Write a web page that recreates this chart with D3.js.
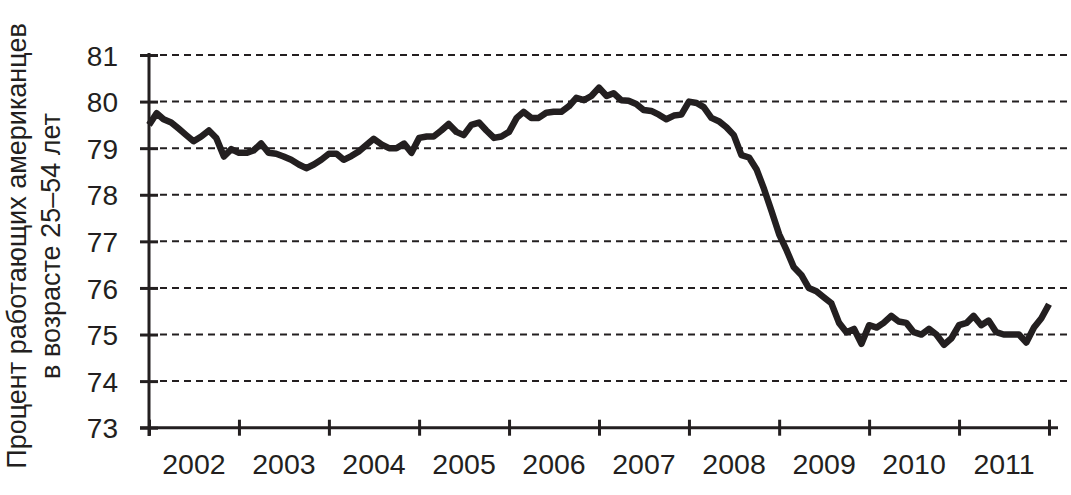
<!DOCTYPE html>
<html><head><meta charset="utf-8">
<script src="https://cdn.jsdelivr.net/npm/d3@7"></script>
<style>
html,body{margin:0;padding:0;background:#fff;}
svg{display:block;}
text{font-family:"Liberation Sans",Arial,Helvetica,sans-serif;fill:#231f20;}
</style></head>
<body>
<svg id="c" width="1071" height="495"></svg>
<script>
// ---- data ----
const startYear = 2002;
const yearLabels = ["2002","2003","2004","2005","2006","2007","2008","2009","2010","2011"];
const yTicks = [73,74,75,76,77,78,79,80,81];
const yLabelLines = ["Процент работающих американцев","в возрасте 25–54 лет"];
// monthly values, Jan 2002 .. Jan 2012
const values = [
 79.50,79.75,79.62,79.55,79.42,79.28,79.15,79.25,79.38,79.22,78.82,78.98,
 78.90,78.90,78.95,79.10,78.90,78.88,78.82,78.75,78.65,78.57,78.65,78.75,
 78.88,78.88,78.75,78.83,78.93,79.07,79.20,79.08,79.00,79.00,79.10,78.90,
 79.22,79.25,79.25,79.38,79.52,79.35,79.28,79.50,79.55,79.38,79.22,79.25,
 79.35,79.65,79.78,79.65,79.65,79.76,79.78,79.78,79.90,80.08,80.03,80.12,
 80.30,80.12,80.18,80.03,80.02,79.95,79.82,79.80,79.72,79.62,79.70,79.72,
 80.00,79.97,79.88,79.65,79.58,79.45,79.28,78.85,78.80,78.55,78.12,77.65,
 77.15,76.80,76.45,76.28,76.00,75.93,75.80,75.67,75.25,75.05,75.12,74.80,
 75.20,75.15,75.25,75.40,75.28,75.25,75.05,75.00,75.12,75.00,74.78,74.92,
 75.20,75.25,75.40,75.20,75.30,75.05,75.00,75.00,75.00,74.83,75.15,75.35,
 75.65
];

const ink = "#231f20";
const svg = d3.select("#c");

const dates = values.map((v,i)=>new Date(startYear, i, 1));
const x = d3.scaleTime()
  .domain([new Date(startYear,0,1), new Date(startYear+yearLabels.length,0,1)])
  .range([149,1049]);
const y = d3.scaleLinear().domain([73,81]).range([427.7,55]);

// gridlines
svg.append("g").selectAll("line").data(yTicks.filter(t=>t>73)).join("line")
  .attr("x1",160).attr("x2",1071)
  .attr("y1",d=>y(d)).attr("y2",d=>y(d))
  .attr("stroke",ink).attr("stroke-width",2).attr("stroke-dasharray","7,5");

// y axis
const yAxis = d3.axisLeft(y).tickValues(yTicks).tickSizeInner(9).tickSizeOuter(0).tickPadding(22);
const gy = svg.append("g").attr("transform","translate(149,0)").call(yAxis);
gy.select(".domain").attr("stroke",ink).attr("stroke-width",3).attr("d","M0,53V436");
gy.selectAll(".tick line").attr("stroke",ink).attr("stroke-width",3).attr("x1",9);
gy.selectAll(".tick text").attr("font-size",28).style("font-family","Liberation Sans, Arial, sans-serif").attr("fill",ink).attr("dy","0.36em");

// x axis
const yearTicks = d3.range(yearLabels.length+1).map(i=>new Date(startYear+i,0,1));
const xAxis = d3.axisBottom(x).tickValues(yearTicks).tickSizeInner(8).tickSizeOuter(0).tickFormat("");
const gx = svg.append("g").attr("transform","translate(0,"+y(73)+")").call(xAxis);
gx.select(".domain").attr("stroke",ink).attr("stroke-width",3).attr("d","M140,0H1058");
gx.selectAll(".tick line").attr("stroke",ink).attr("stroke-width",3).attr("y1",-8);

// year labels centered in year
svg.append("g").selectAll("text").data(yearLabels).join("text")
  .attr("x",(d,i)=>(x(new Date(startYear+i,0,1))+x(new Date(startYear+i+1,0,1)))/2)
  .attr("y",474)
  .attr("text-anchor","middle").attr("font-size",28.5).text(d=>d);

// y label
svg.append("g").selectAll("text").data(yLabelLines).join("text")
  .attr("transform",(d,i)=>"translate("+(i===0?26:60)+",246) rotate(-90)")
  .attr("text-anchor","middle").attr("font-size",27).text(d=>d);

// line
const line = d3.line().x((d,i)=>x(dates[i])).y(d=>y(d)).curve(d3.curveLinear);
svg.append("path").datum(values).attr("d",line)
  .attr("fill","none").attr("stroke",ink).attr("stroke-width",6.5)
  .attr("stroke-linejoin","round").attr("stroke-linecap","butt");
</script>
</body></html>
